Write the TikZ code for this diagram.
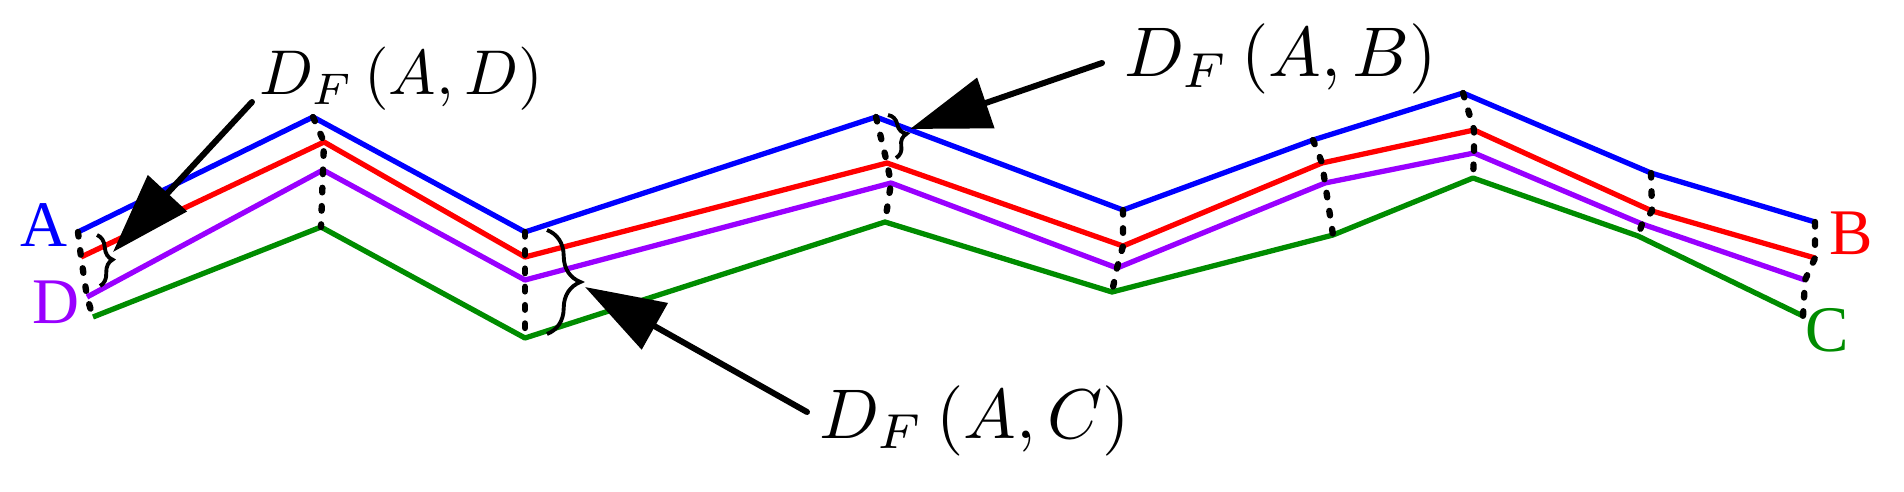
\documentclass[tikz,border=0pt]{standalone}
\usepackage{fontspec}
\newfontfamily\timesf{Liberation Serif}
\usetikzlibrary{arrows.meta,decorations.pathreplacing}
\definecolor{cblue}{RGB}{0,0,255}
\definecolor{cred}{RGB}{255,0,0}
\definecolor{cpurple}{RGB}{153,0,255}
\definecolor{cgreen}{RGB}{0,140,0}
\begin{document}
\begin{tikzpicture}[x=0.01cm,y=-0.01cm,
  curve/.style={line width=1.5pt,line join=round},
  gapline/.style={line width=1.8pt,dash pattern=on 1.3pt off 3.9pt,line cap=round},
  pointer/.style={line width=1.7pt,line cap=round,-{Triangle[length=22.8pt,width=14.8pt]}},
  brc/.style={decorate,decoration={brace,amplitude=#1},line width=1.1pt},
  lbl/.style={inner sep=0pt,font=\timesf\fontsize{18.5}{22}\selectfont},
  mathlbl/.style={inner sep=0pt,anchor=base west,scale=#1,font=\fontsize{10}{12}\selectfont}]
\useasboundingbox (0,0) rectangle (1904,491);
% vertices
\coordinate (b1) at (78,232);  \coordinate (b2) at (313,117); \coordinate (b3) at (525,232);
\coordinate (b4) at (876,117); \coordinate (b5) at (1123,210); \coordinate (b6) at (1313,140);
\coordinate (b7) at (1463,93); \coordinate (b8) at (1651,173); \coordinate (b9) at (1815,222);
\coordinate (r1) at (81,257);  \coordinate (r2) at (324,142); \coordinate (r3) at (525,257);
\coordinate (r4) at (887,163); \coordinate (r5) at (1123,246); \coordinate (r6) at (1322,163);
\coordinate (r7) at (1474,130); \coordinate (r8) at (1652,211); \coordinate (r9) at (1815,258);
\coordinate (p1) at (87,297);  \coordinate (p2) at (323,170); \coordinate (p3) at (525,280);
\coordinate (p4) at (891,183); \coordinate (p5) at (1117,268); \coordinate (p6) at (1325,183);
\coordinate (p7) at (1474,153); \coordinate (p8) at (1642,224); \coordinate (p9) at (1805,280);
\coordinate (g1) at (93,317);  \coordinate (g2) at (321,227); \coordinate (g3) at (525,338);
\coordinate (g4) at (885,222); \coordinate (g5) at (1112,292); \coordinate (g6) at (1333,235);
\coordinate (g7) at (1473,178); \coordinate (g8) at (1638,236); \coordinate (g9) at (1803,316);
% curves
\draw[curve,cgreen] (g1)--(g2)--(g3)--(g4)--(g5)--(g6)--(g7)--(g8)--(g9);
\draw[curve,cpurple] (p1)--(p2)--(p3)--(p4)--(p5)--(p6)--(p7)--(p8)--(p9);
\draw[curve,cred] (r1)--(r2)--(r3)--(r4)--(r5)--(r6)--(r7)--(r8)--(r9);
\draw[curve,cblue] (b1)--(b2)--(b3)--(b4)--(b5)--(b6)--(b7)--(b8)--(b9);
% dashed connectors
\foreach \i in {1,...,9} \draw[gapline] (b\i)--(r\i)--(p\i)--(g\i);
% braces
\coordinate (brAD1) at (97,235);  \coordinate (brAD2) at (100,286);
\coordinate (brAC1) at (547,230); \coordinate (brAC2) at (547,334);
\coordinate (brAB1) at (888,115); \coordinate (brAB2) at (896,158);
\draw[brc=4pt] (brAD1) -- (brAD2);
\draw[brc=9.5pt] (brAC1) -- (brAC2);
\draw[brc=4.2pt] (brAB1) -- (brAB2);
% labels
\node[lbl,text=cblue] (lA) at (44,225) {A};
\node[lbl,text=cpurple] (lD) at (56,302) {D};
\node[lbl,text=cred] (lB) at (1851,233) {B};
\node[lbl,text=cgreen] (lC) at (1827,330) {C};
\node[mathlbl=1.8] (tAD) at (258,95) {$D_F\,(A,D)$};
\node[mathlbl=2.0] (tAB) at (1123,77) {$D_F\,(A,B)$};
\node[mathlbl=2.0] (tAC) at (818,438) {$D_F\,(A,C)$};
% arrows
\coordinate (tailAD) at (252,102); \coordinate (tipAD) at (113,252);
\coordinate (tailAB) at (1102,63); \coordinate (tipAB) at (910,129);
\coordinate (tailAC) at (807,412); \coordinate (tipAC) at (585,287);
\draw[pointer] (tailAD) -- (tipAD);
\draw[pointer] (tailAB) -- (tipAB);
\draw[pointer] (tailAC) -- (tipAC);
\end{tikzpicture}
\end{document}
